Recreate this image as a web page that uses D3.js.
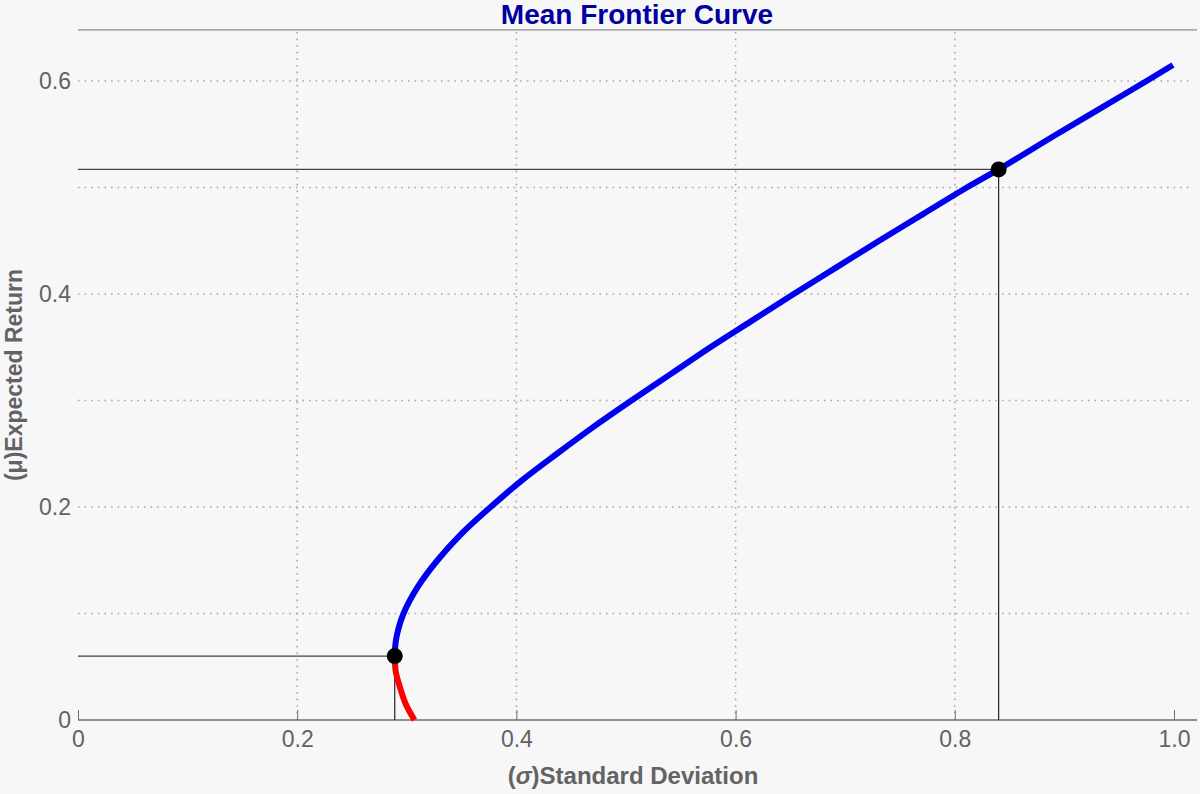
<!DOCTYPE html>
<html lang="en">
<head>
    <meta charset="UTF-8">
    <title>Mean Frontier Curve</title>
    <style>
        body { margin: 0; background: #f7f7f7; }
        svg { display: block; font-family: "Liberation Sans", Arial, sans-serif; }
    </style>
</head>
<body>
    <div id="chart"></div>

    <script src="https://cdnjs.cloudflare.com/ajax/libs/d3/7.8.5/d3.min.js"></script>
    <script>
        // Values (sigma = std deviation, mu = expected return)
        const inefficientSigma = [0.289, 0.290, 0.294, 0.299, 0.307];
        const inefficientMu    = [0.060, 0.045, 0.030, 0.015, 0.000];

        const efficientSigma = [0.289, 0.2895, 0.291, 0.297, 0.310, 0.328, 0.350, 0.3765, 0.405, 0.437,
                                0.470, 0.505, 0.541, 0.577, 0.615, 0.653, 0.692, 0.731, 0.771, 0.811,
                                0.840, 0.893, 0.934, 0.975, 0.999];
        const efficientMu    = [0.060, 0.070, 0.080, 0.100, 0.125, 0.150, 0.175, 0.200, 0.225, 0.250,
                                0.275, 0.300, 0.325, 0.350, 0.375, 0.400, 0.425, 0.450, 0.475, 0.500,
                                0.517, 0.550, 0.575, 0.600, 0.615];

        // marked portfolios: minimum variance and tangency
        const markSigma = [0.289, 0.840];
        const markMu    = [0.060, 0.517];

        const xTicks = [0, 0.2, 0.4, 0.6, 0.8, 1.0];
        const yTicks = [0, 0.2, 0.4, 0.6];
        const xGrid = [0.2, 0.4, 0.6, 0.8];
        const yGrid = [0.1, 0.2, 0.3, 0.4, 0.5, 0.6];

        const width = 1200, height = 794;
        const xMax = 1.021, yMax = 0.648;   // plot range past the last tick

        const svg = d3.select("#chart")
            .append("svg")
            .attr("width", width)
            .attr("height", height);

        svg.append("rect")
            .attr("width", width)
            .attr("height", height)
            .attr("fill", "#f7f7f7");

        const x = d3.scaleLinear().domain([0, 1]).range([78, 1174]);
        const y = d3.scaleLinear().domain([0, 0.6]).range([720, 81]);

        // dotted grid
        svg.append("g")
            .selectAll("line")
            .data(yGrid)
            .enter()
            .append("line")
            .attr("x1", x(0))
            .attr("x2", x(1.017))
            .attr("y1", d => y(d))
            .attr("y2", d => y(d))
            .attr("stroke", "#a8a8a8")
            .attr("stroke-width", 1.6)
            .attr("stroke-dasharray", "1.6,5");

        svg.append("g")
            .selectAll("line")
            .data(xGrid)
            .enter()
            .append("line")
            .attr("x1", d => x(d))
            .attr("x2", d => x(d))
            .attr("y1", y(0))
            .attr("y2", y(yMax))
            .attr("stroke", "#a8a8a8")
            .attr("stroke-width", 1.6)
            .attr("stroke-dasharray", "1.6,5");

        // top frame line
        svg.append("line")
            .attr("x1", x(0))
            .attr("x2", x(xMax))
            .attr("y1", y(yMax))
            .attr("y2", y(yMax))
            .attr("stroke", "#8c8c8c")
            .attr("stroke-width", 1.3);

        const fmt = d => d === 0 ? "0" : d.toFixed(1);

        // x axis
        const xAxis = svg.append("g")
            .attr("transform", "translate(0," + y(0) + ")")
            .call(d3.axisBottom(x).tickValues(xTicks).tickFormat(fmt).tickSize(-10).tickPadding(11));
        xAxis.select(".domain")
            .attr("d", "M" + x(0) + ",0H" + x(xMax))
            .attr("stroke", "#707070")
            .attr("stroke-width", 1.3);
        xAxis.selectAll(".tick line").attr("stroke", "#707070");
        xAxis.selectAll(".tick text")
            .attr("fill", "#626262")
            .style("font-size", "23px")
            .style("font-family", "Liberation Sans, Arial, sans-serif");

        // y axis (labels only)
        const yAxis = svg.append("g")
            .attr("transform", "translate(" + x(0) + ",0)")
            .call(d3.axisLeft(y).tickValues(yTicks).tickFormat(fmt).tickSize(0).tickPadding(7));
        yAxis.select(".domain").remove();
        yAxis.selectAll(".tick text")
            .attr("fill", "#626262")
            .style("font-size", "23px")
            .style("font-family", "Liberation Sans, Arial, sans-serif");

        // drop lines from the marked portfolios
        markSigma.forEach(function(s, i) {
            svg.append("line")
                .attr("x1", x(0)).attr("x2", x(s))
                .attr("y1", y(markMu[i])).attr("y2", y(markMu[i]))
                .attr("stroke", "#444").attr("stroke-width", 1.2);
            svg.append("line")
                .attr("x1", x(s)).attr("x2", x(s))
                .attr("y1", y(markMu[i])).attr("y2", y(0))
                .attr("stroke", "#222").attr("stroke-width", 1.2);
        });

        const line = d3.line()
            .x(d => x(d[0]))
            .y(d => y(d[1]))
            .curve(d3.curveCatmullRom.alpha(0.5));

        const redData = d3.zip(inefficientSigma, inefficientMu);
        const blueData = d3.zip(efficientSigma, efficientMu);

        svg.append("path")
            .datum(redData)
            .attr("d", line)
            .attr("fill", "none")
            .attr("stroke", "#ff0000")
            .attr("stroke-width", 6);

        svg.append("path")
            .datum(blueData)
            .attr("d", line)
            .attr("fill", "none")
            .attr("stroke", "#0000f0")
            .attr("stroke-width", 6);

        svg.append("g")
            .selectAll("circle")
            .data(d3.zip(markSigma, markMu))
            .enter()
            .append("circle")
            .attr("cx", d => x(d[0]))
            .attr("cy", d => y(d[1]))
            .attr("r", 8)
            .attr("fill", "#000");

        // title and axis labels
        svg.append("text")
            .attr("x", 637)
            .attr("y", 24)
            .attr("text-anchor", "middle")
            .attr("fill", "#00009c")
            .style("font-size", "28px")
            .style("font-weight", "bold")
            .text("Mean Frontier Curve");

        const xLabel = svg.append("text")
            .attr("x", 633)
            .attr("y", 784)
            .attr("text-anchor", "middle")
            .attr("fill", "#636363")
            .style("font-size", "24px")
            .style("font-weight", "bold");
        xLabel.append("tspan").text("(");
        xLabel.append("tspan").style("font-style", "italic").text("σ");
        xLabel.append("tspan").text(")Standard Deviation");

        svg.append("text")
            .attr("transform", "translate(22,375) rotate(-90)")
            .attr("text-anchor", "middle")
            .attr("fill", "#636363")
            .style("font-size", "23px")
            .style("font-weight", "bold")
            .text("(μ)Expected Return");
    </script>
</body>
</html>
